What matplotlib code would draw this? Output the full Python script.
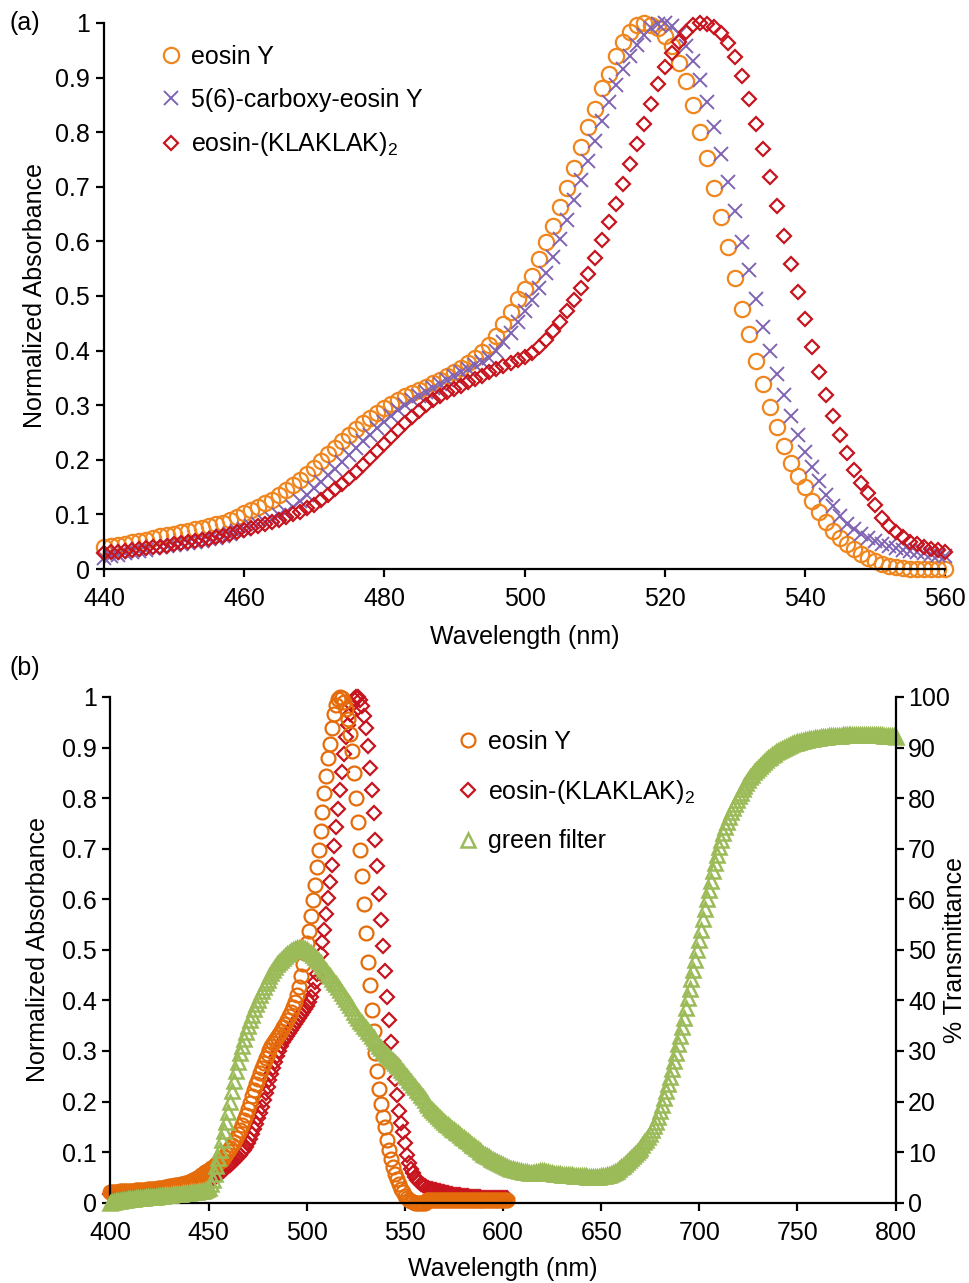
import numpy as np
import matplotlib
matplotlib.use("Agg")
import matplotlib.pyplot as plt
from matplotlib.ticker import FormatStrFormatter, MultipleLocator

plt.rcParams['font.family'] = ['Liberation Sans', 'DejaVu Sans']

# --- panel (a): normalized absorbance, 440-560 nm at 1 nm ---
wl_a = np.arange(440, 561)

eosin_y = [
    0.040, 0.042, 0.044, 0.046, 0.049, 0.051, 0.054, 0.057, 0.060, 0.063,
    0.065, 0.068, 0.070, 0.073, 0.076, 0.079, 0.082, 0.085, 0.090, 0.096,
    0.102, 0.108, 0.114, 0.120, 0.127, 0.135, 0.144, 0.153, 0.163, 0.174,
    0.185, 0.197, 0.210, 0.222, 0.234, 0.245, 0.256, 0.267, 0.277, 0.286,
    0.294, 0.302, 0.309, 0.316, 0.322, 0.328, 0.334, 0.340, 0.347, 0.354,
    0.361, 0.369, 0.377, 0.386, 0.397, 0.410, 0.427, 0.449, 0.471, 0.494,
    0.513, 0.537, 0.567, 0.599, 0.628, 0.663, 0.697, 0.735, 0.773, 0.810,
    0.843, 0.880, 0.907, 0.939, 0.966, 0.984, 0.996, 1.000, 0.997, 0.990,
    0.977, 0.957, 0.926, 0.893, 0.849, 0.800, 0.753, 0.698, 0.645, 0.590,
    0.533, 0.476, 0.430, 0.381, 0.339, 0.296, 0.260, 0.225, 0.195, 0.170,
    0.150, 0.124, 0.105, 0.087, 0.070, 0.056, 0.046, 0.037, 0.028, 0.021,
    0.014, 0.009, 0.005, 0.003, 0.001, 0.000, 0.000, 0.000, 0.000, 0.000,
    0.000,
]

carboxy_eosin_y = [
    0.020, 0.023, 0.026, 0.029, 0.031, 0.033, 0.035, 0.038, 0.040, 0.042,
    0.044, 0.046, 0.048, 0.050, 0.052, 0.055, 0.057, 0.060, 0.064, 0.069,
    0.074, 0.079, 0.083, 0.087, 0.092, 0.098, 0.105, 0.114, 0.124, 0.136,
    0.148, 0.160, 0.172, 0.183, 0.196, 0.209, 0.222, 0.234, 0.246, 0.258,
    0.269, 0.280, 0.291, 0.300, 0.309, 0.317, 0.325, 0.332, 0.339, 0.346,
    0.353, 0.360, 0.367, 0.373, 0.379, 0.386, 0.400, 0.415, 0.432, 0.452,
    0.472, 0.492, 0.515, 0.542, 0.572, 0.605, 0.640, 0.676, 0.712, 0.748,
    0.784, 0.820, 0.855, 0.887, 0.915, 0.940, 0.960, 0.978, 0.990, 0.998,
    1.000, 0.995, 0.980, 0.957, 0.930, 0.896, 0.855, 0.810, 0.760, 0.708,
    0.656, 0.598, 0.548, 0.495, 0.443, 0.400, 0.357, 0.318, 0.280, 0.246,
    0.215, 0.187, 0.161, 0.136, 0.115, 0.097, 0.083, 0.073, 0.064, 0.057,
    0.051, 0.046, 0.042, 0.038, 0.035, 0.033, 0.031, 0.029, 0.027, 0.025,
    0.023,
]

klaklak = [
    0.030, 0.031, 0.032, 0.033, 0.035, 0.036, 0.038, 0.040, 0.041, 0.043,
    0.045, 0.047, 0.049, 0.051, 0.053, 0.055, 0.058, 0.061, 0.064, 0.068,
    0.072, 0.075, 0.078, 0.082, 0.086, 0.090, 0.095, 0.100, 0.105, 0.111,
    0.118, 0.126, 0.136, 0.146, 0.156, 0.167, 0.178, 0.190, 0.203, 0.216,
    0.229, 0.242, 0.255, 0.267, 0.279, 0.290, 0.300, 0.309, 0.317, 0.324,
    0.330, 0.336, 0.342, 0.348, 0.354, 0.360, 0.366, 0.372, 0.378, 0.382,
    0.388, 0.396, 0.407, 0.420, 0.436, 0.453, 0.472, 0.492, 0.515, 0.540,
    0.570, 0.602, 0.635, 0.668, 0.705, 0.742, 0.778, 0.815, 0.852, 0.888,
    0.920, 0.945, 0.966, 0.984, 0.996, 1.000, 0.999, 0.993, 0.982, 0.963,
    0.938, 0.902, 0.860, 0.815, 0.770, 0.718, 0.665, 0.610, 0.559, 0.507,
    0.458, 0.406, 0.361, 0.318, 0.280, 0.245, 0.213, 0.182, 0.158, 0.139,
    0.118, 0.094, 0.078, 0.067, 0.058, 0.050, 0.045, 0.041, 0.037, 0.034,
    0.032,
]

# --- panel (b): extra ends of the eosin spectra (400-439 and 561-602 nm) ---
eosin_y_low = [
    0.022, 0.022, 0.022, 0.022, 0.022, 0.023, 0.023, 0.023, 0.023, 0.024,
    0.024, 0.024, 0.024, 0.025, 0.025, 0.025, 0.026, 0.026, 0.026, 0.027,
    0.027, 0.027, 0.028, 0.028, 0.029, 0.029, 0.030, 0.030, 0.031, 0.031,
    0.032, 0.032, 0.033, 0.034, 0.034, 0.035, 0.036, 0.037, 0.038, 0.039,
]
eosin_y_high = [
    0.005, 0.005, 0.005, 0.005, 0.005, 0.005, 0.005, 0.005, 0.005, 0.005,
    0.005, 0.005, 0.005, 0.005, 0.005, 0.005, 0.005, 0.005, 0.005, 0.005,
    0.005, 0.005, 0.005, 0.005, 0.005, 0.005, 0.005, 0.005, 0.005, 0.005,
    0.005, 0.005, 0.005, 0.005, 0.005, 0.005, 0.005, 0.005, 0.005, 0.005,
    0.005, 0.005,
]
klaklak_low = [
    0.018, 0.018, 0.018, 0.018, 0.019, 0.019, 0.019, 0.019, 0.020, 0.020,
    0.020, 0.020, 0.021, 0.021, 0.021, 0.021, 0.022, 0.022, 0.022, 0.022,
    0.023, 0.023, 0.023, 0.024, 0.024, 0.024, 0.025, 0.025, 0.025, 0.026,
    0.026, 0.026, 0.027, 0.027, 0.027, 0.028, 0.028, 0.029, 0.029, 0.029,
]
klaklak_high = [
    0.030, 0.029, 0.028, 0.027, 0.026, 0.025, 0.024, 0.023, 0.022, 0.021,
    0.020, 0.019, 0.018, 0.017, 0.016, 0.016, 0.015, 0.015, 0.014, 0.014,
    0.013, 0.013, 0.012, 0.012, 0.012, 0.011, 0.011, 0.011, 0.010, 0.010,
    0.010, 0.010, 0.010, 0.010, 0.010, 0.010, 0.010, 0.010, 0.010, 0.010,
    0.010, 0.010,
]

# green filter transmittance (%), 400-800 nm at 1 nm
wl_filter = np.arange(400, 801)
green_filter = [
    0.0, 0.1, 0.2, 0.3, 0.35, 0.4, 0.5, 0.55, 0.6, 0.65,
    0.7, 0.75, 0.8, 0.85, 0.9, 0.95, 1.0, 1.0, 1.05, 1.1,
    1.1, 1.15, 1.2, 1.2, 1.25, 1.3, 1.35, 1.4, 1.45, 1.5,
    1.55, 1.6, 1.65, 1.7, 1.75, 1.8, 1.8, 1.85, 1.9, 1.95,
    2.0, 2.05, 2.1, 2.15, 2.2, 2.25, 2.3, 2.4, 2.5, 2.7,
    3.0, 3.6, 4.5, 5.7, 7.2, 8.8, 10.5, 12.3, 14.1, 16.0,
    18.0, 20.0, 22.0, 24.0, 26.0, 27.8, 29.5, 31.0, 32.4, 33.7,
    35.0, 36.1, 37.2, 38.2, 39.2, 40.1, 41.0, 41.8, 42.6, 43.4,
    44.1, 44.8, 45.4, 46.0, 46.6, 47.1, 47.6, 48.0, 48.4, 48.8,
    49.1, 49.4, 49.7, 49.9, 50.1, 50.3, 50.4, 50.4, 50.3, 50.1,
    49.9, 49.6, 49.3, 48.9, 48.5, 48.1, 47.7, 47.3, 46.8, 46.3,
    45.8, 45.3, 44.8, 44.3, 43.7, 43.2, 42.6, 42.0, 41.4, 40.8,
    40.2, 39.6, 39.0, 38.4, 37.8, 37.2, 36.6, 36.0, 35.5, 35.0,
    34.5, 34.0, 33.5, 33.0, 32.5, 32.0, 31.5, 31.0, 30.5, 30.0,
    29.6, 29.2, 28.8, 28.4, 28.0, 27.6, 27.2, 26.8, 26.3, 25.8,
    25.3, 24.8, 24.3, 23.8, 23.3, 22.8, 22.3, 21.8, 21.3, 20.8,
    20.3, 19.8, 19.3, 18.8, 18.3, 17.9, 17.5, 17.1, 16.7, 16.3,
    16.0, 15.6, 15.3, 15.0, 14.6, 14.3, 14.0, 13.7, 13.4, 13.0,
    12.7, 12.4, 12.1, 11.8, 11.5, 11.2, 10.9, 10.6, 10.3, 10.0,
    9.7, 9.5, 9.2, 9.0, 8.7, 8.5, 8.2, 8.0, 7.8, 7.6,
    7.4, 7.2, 7.0, 6.9, 6.7, 6.6, 6.5, 6.4, 6.3, 6.2,
    6.1, 6.0, 6.0, 5.9, 5.9, 5.9, 5.9, 6.0, 6.1, 6.2,
    6.2, 6.2, 6.1, 6.0, 5.9, 5.8, 5.7, 5.7, 5.6, 5.6,
    5.5, 5.5, 5.5, 5.4, 5.4, 5.4, 5.3, 5.3, 5.3, 5.2,
    5.2, 5.2, 5.2, 5.1, 5.1, 5.1, 5.1, 5.1, 5.1, 5.1,
    5.2, 5.2, 5.3, 5.4, 5.5, 5.6, 5.8, 6.0, 6.3, 6.6,
    7.0, 7.3, 7.7, 8.1, 8.5, 8.9, 9.3, 9.7, 10.1, 10.5,
    10.9, 11.4, 11.9, 12.4, 13.0, 13.6, 14.3, 15.1, 16.0, 17.0,
    18.2, 19.4, 20.7, 22.0, 23.4, 24.9, 26.4, 28.0, 29.6, 31.3,
    33.0, 34.8, 36.6, 38.5, 40.4, 42.3, 44.2, 46.1, 48.0, 50.0,
    52.0, 54.0, 56.0, 58.0, 60.0, 61.9, 63.7, 65.5, 67.2, 68.8,
    70.3, 71.7, 73.0, 74.2, 75.3, 76.3, 77.2, 78.1, 78.9, 79.7,
    80.4, 81.1, 81.8, 82.4, 83.0, 83.6, 84.1, 84.6, 85.1, 85.6,
    86.0, 86.4, 86.8, 87.2, 87.6, 87.9, 88.2, 88.5, 88.8, 89.1,
    89.3, 89.5, 89.7, 89.9, 90.1, 90.3, 90.5, 90.6, 90.8, 90.9,
    91.0, 91.1, 91.2, 91.3, 91.4, 91.5, 91.6, 91.7, 91.7, 91.8,
    91.9, 91.9, 92.0, 92.0, 92.1, 92.1, 92.2, 92.2, 92.2, 92.3,
    92.3, 92.3, 92.3, 92.4, 92.4, 92.4, 92.4, 92.4, 92.4, 92.4,
    92.4, 92.4, 92.4, 92.4, 92.4, 92.4, 92.4, 92.4, 92.4, 92.4,
    92.4, 92.4, 92.4, 92.4, 92.3, 92.3, 92.3, 92.2, 92.2, 92.2,
    92.1,
]

wl_b = np.arange(400, 603)
eosin_y_b = eosin_y_low + eosin_y + eosin_y_high
klaklak_b = klaklak_low + klaklak + klaklak_high

ORANGE_A = "#F0861E"
ORANGE_B = "#E46C0A"
PURPLE = "#8064B4"
RED = "#C8141E"
GREEN = "#9BBB59"
FS = 18

fig = plt.figure(figsize=(9.69, 12.83), dpi=100)


def style_axis(ax):
    for s in ["top", "right"]:
        ax.spines[s].set_visible(False)
    for s in ["left", "bottom"]:
        ax.spines[s].set_linewidth(1.6)
    ax.tick_params(direction="out", length=6, width=1.6, labelsize=FS, pad=4)
    ax.tick_params(axis="x", pad=7)
    ax.yaxis.set_major_locator(MultipleLocator(0.1))
    ax.yaxis.set_major_formatter(FormatStrFormatter("%g"))


# ---------------- panel (a) ----------------
ax1 = fig.add_axes([0.1073, 0.5565, 0.868, 0.4256])
ax1.plot(wl_a, eosin_y, linestyle="none", marker="o", ms=11, mfc="none",
         mec=ORANGE_A, mew=1.6, clip_on=False, label="eosin Y")
ax1.plot(wl_a, carboxy_eosin_y, linestyle="none", marker="x", ms=10,
         mec=PURPLE, mew=1.4, clip_on=False, label="5(6)-carboxy-eosin Y")
ax1.plot(wl_a, klaklak, linestyle="none", marker="D", ms=7.5, mfc="none",
         mec=RED, mew=1.6, clip_on=False, label="eosin-(KLAKLAK)$_\\mathregular{2}$")
ax1.set_xlim(440, 560)
ax1.set_ylim(0, 1)
ax1.xaxis.set_major_locator(MultipleLocator(20))
style_axis(ax1)
ax1.set_xlabel("Wavelength (nm)", fontsize=FS, labelpad=10)
ax1.set_ylabel("Normalized Absorbance", fontsize=FS)
ax1.yaxis.set_label_coords(-0.068, 0.5)
ax1.legend(loc="upper left", bbox_to_anchor=(0.065, 0.96), frameon=False,
           fontsize=FS, handletextpad=0.3, handlelength=1.0,
           labelspacing=0.75, borderaxespad=0, borderpad=0)
fig.text(0.01, 0.982, "(a)", fontsize=FS, va="center")

# ---------------- panel (b) ----------------
ax2 = fig.add_axes([0.114, 0.0626, 0.8103, 0.3942])
h2, = ax2.plot(wl_b, klaklak_b, linestyle="none", marker="D", ms=7, mfc="none",
               mec=RED, mew=1.6, clip_on=False,
               label="eosin-(KLAKLAK)$_\\mathregular{2}$")
h1, = ax2.plot(wl_b, eosin_y_b, linestyle="none", marker="o", ms=10, mfc="none",
               mec=ORANGE_B, mew=1.6, clip_on=False, label="eosin Y")
ax2.set_xlim(400, 800)
ax2.set_ylim(0, 1)
ax2.xaxis.set_major_locator(MultipleLocator(50))
style_axis(ax2)
ax2.set_xlabel("Wavelength (nm)", fontsize=FS, labelpad=9)
ax2.set_ylabel("Normalized Absorbance", fontsize=FS)
ax2.yaxis.set_label_coords(-0.077, 0.5)

ax3 = ax2.twinx()
h3, = ax3.plot(wl_filter, green_filter, linestyle="none", marker="^", ms=10,
               mfc="none", mec=GREEN, mew=1.8, clip_on=False, label="green filter")
ax3.set_ylim(0, 100)
ax3.yaxis.set_major_locator(MultipleLocator(10))
for s in ["top", "left", "bottom"]:
    ax3.spines[s].set_visible(False)
ax3.spines["right"].set_linewidth(1.6)
ax3.tick_params(direction="out", length=6, width=1.6, labelsize=FS, pad=3)
ax3.set_ylabel("% Transmittance", fontsize=FS, rotation=90)
ax3.yaxis.set_label_coords(1.06, 0.5)

ax2.legend(handles=[h1, h2, h3], loc="upper left", bbox_to_anchor=(0.44, 0.935),
           frameon=False, fontsize=FS, handletextpad=0.3, handlelength=1.0,
           labelspacing=0.95, borderaxespad=0, borderpad=0)
fig.text(0.01, 0.479, "(b)", fontsize=FS, va="center")

plt.savefig("out.png", dpi=100)
